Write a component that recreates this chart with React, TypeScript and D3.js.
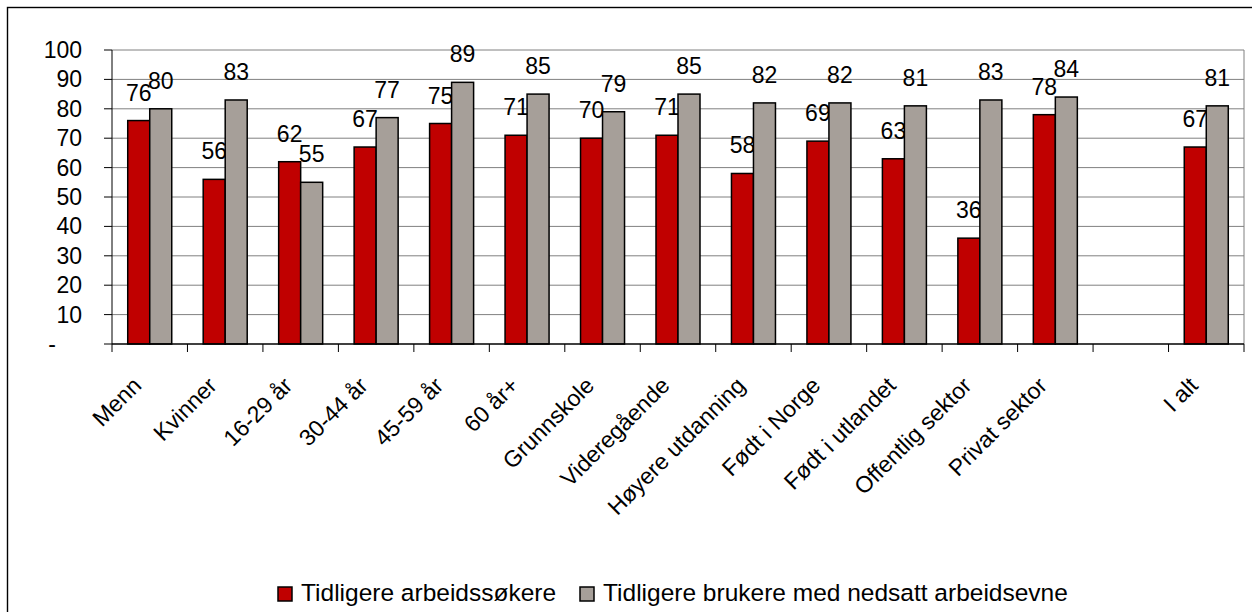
import React from 'react';
import * as d3 from 'd3';

const WIDTH = 1252;
const HEIGHT = 612;
const PLOT = { left: 112, right: 1244, top: 50, bottom: 344 };
const FONT = '"Liberation Sans", Arial, sans-serif';

const categories = [
  'Menn', 'Kvinner', '16-29 år', '30-44 år', '45-59 år', '60 år+', 'Grunnskole',
  'Videregående', 'Høyere utdanning', 'Født i Norge', 'Født i utlandet',
  'Offentlig sektor', 'Privat sektor', '', 'I alt',
];
const arbeidssokere = [76, 56, 62, 67, 75, 71, 70, 71, 58, 69, 63, 36, 78, null, 67];
const nedsattArbeidsevne = [80, 83, 55, 77, 89, 85, 79, 85, 82, 82, 81, 83, 84, null, 81];
const seriesNames = ['Tidligere arbeidssøkere', 'Tidligere brukere med nedsatt arbeidsevne'];
const seriesColors = ['#C00000', '#A69F99'];
const yTicks = [0, 10, 20, 30, 40, 50, 60, 70, 80, 90, 100];

export default function App() {
  const keys = categories.map((c, i) => `${i}:${c}`);
  const x0 = d3.scaleBand().domain(keys).range([PLOT.left, PLOT.right]).padding(0);
  const x1 = d3.scaleBand().domain(['0', '1']).range([0, x0.bandwidth()]).paddingInner(0).paddingOuter(0.715);
  const y = d3.scaleLinear().domain([0, 100]).range([PLOT.bottom, PLOT.top]);
  const series = [arbeidssokere, nedsattArbeidsevne];
  const boundaries = d3.range(categories.length + 1).map((k) => PLOT.left + k * x0.step());

  return (
    <svg width={WIDTH} height={HEIGHT} style={{ position: 'absolute', left: 0, top: 0 }} fontFamily={FONT}>
      <rect x={0} y={0} width={WIDTH} height={HEIGHT} fill="#fff" />
      <rect x={7.5} y={7.5} width={WIDTH + 20} height={HEIGHT + 20} fill="none" stroke="#000" strokeWidth={1.4} />

      {/* grid */}
      {yTicks.filter((t) => t > 0).map((t) => (
        <line key={t} x1={PLOT.left} x2={PLOT.right} y1={y(t)} y2={y(t)} stroke="#808080" strokeWidth={1} />
      ))}
      <line x1={PLOT.right} x2={PLOT.right} y1={PLOT.top} y2={PLOT.bottom} stroke="#808080" strokeWidth={1} />

      {/* y axis */}
      <line x1={PLOT.left} x2={PLOT.left} y1={PLOT.top} y2={PLOT.bottom} stroke="#000" strokeWidth={1} />
      {yTicks.map((t) => (
        <g key={t}>
          <line x1={PLOT.left - 8} x2={PLOT.left} y1={y(t)} y2={y(t)} stroke="#000" strokeWidth={1} />
          {t === 0 ? (
            <text x={56} y={y(t)} dy="0.35em" textAnchor="end" fontSize={23}>-</text>
          ) : (
            <text x={82} y={y(t)} dy="0.35em" textAnchor="end" fontSize={23}>{t}</text>
          )}
        </g>
      ))}

      {/* bars */}
      {keys.map((k, i) => (
        <g key={k} transform={`translate(${x0(k)},0)`}>
          {series.map((s, j) => s[i] == null ? null : (
            <g key={j}>
              <rect x={x1(String(j))} y={y(s[i] as number)} width={x1.bandwidth()}
                height={PLOT.bottom - y(s[i] as number)} fill={seriesColors[j]} stroke="#000" strokeWidth={1.5} />
              <text x={(x1(String(j)) as number) + x1.bandwidth() / 2} y={y(s[i] as number) - 20}
                textAnchor="middle" fontSize={23}>{s[i]}</text>
            </g>
          ))}
        </g>
      ))}

      {/* x axis */}
      <line x1={PLOT.left} x2={PLOT.right} y1={PLOT.bottom} y2={PLOT.bottom} stroke="#000" strokeWidth={1.5} />
      {boundaries.map((b, i) => (
        <line key={i} x1={b} x2={b} y1={PLOT.bottom} y2={PLOT.bottom + 8} stroke="#000" strokeWidth={1} />
      ))}
      {keys.map((k, i) => {
        const cx = (x0(k) as number) + x0.bandwidth() / 2 - 7;
        const cy = PLOT.bottom + 43;
        return (
          <text key={k} x={cx} y={cy} textAnchor="end" fontSize={23} transform={`rotate(-45 ${cx} ${cy})`}>
            {categories[i]}
          </text>
        );
      })}

      {/* legend */}
      {seriesNames.map((name, j) => {
        const lx = [278, 580][j];
        return (
          <g key={name}>
            <rect x={lx} y={587} width={14} height={14} fill={seriesColors[j]} stroke="#000" strokeWidth={1.5} />
            <text x={lx + 23} y={601} fontSize={24.5}>{name}</text>
          </g>
        );
      })}
    </svg>
  );
}
